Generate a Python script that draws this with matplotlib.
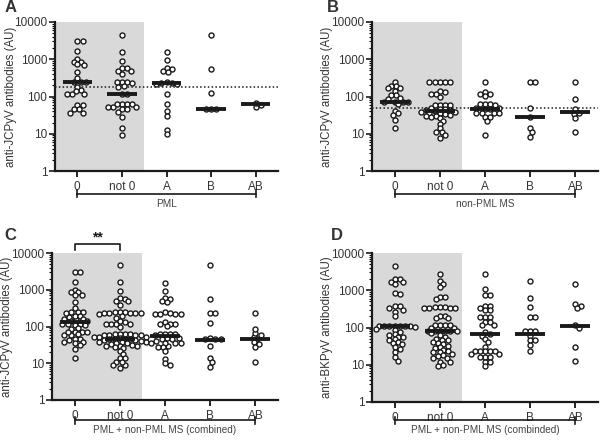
#numpy for arrays, matplotlib for the figure
import numpy as np
import matplotlib.pyplot as plt
from matplotlib import transforms as mtransforms
from matplotlib.ticker import LogLocator, FuncFormatter, NullFormatter

plt.rcParams['font.family'] = ['Liberation Sans', 'DejaVu Sans']

#Category names shown under every panel
categories = ["0", "not 0", "A", "B", "AB"]

#Panel A: PML patients, anti-JCPyV antibodies (AU)
pml_0 = [3000, 3000, 1650, 1000, 850, 850, 730, 700, 450, 310, 250, 250, 250,
         180, 150, 140, 120, 120, 120, 59, 59, 46, 46, 37, 37]
pml_not0 = [4600, 1600, 900, 590, 570, 480, 480, 390, 250, 250, 250, 225, 195,
            175, 120, 115, 64, 64, 64, 64, 53, 53, 53, 46, 46, 38, 29, 14, 9]
pml_A = [1550, 930, 600, 560, 480, 450, 250, 215, 215, 225, 225, 115, 63, 40,
         30, 13, 10]
pml_B = [4600, 550, 125, 47, 45, 45]
pml_AB = [53, 68, 60]
pml_medians = [250, 120, 225, 46, 61]
pml_cutoff = 180

#Panel B: non-PML MS patients, anti-JCPyV antibodies (AU)
ms_0 = [240, 190, 190, 165, 165, 140, 110, 110, 90, 88, 72, 72, 72, 72, 62,
        42, 35, 32, 24, 14]
ms_not0 = [240, 240, 240, 240, 240, 140, 130, 115, 115, 100, 59, 59, 59, 59,
           48, 45, 45, 43, 43, 40, 38, 38, 36, 35, 33, 32, 30, 30, 28, 26, 22,
           18, 14, 11, 11, 9, 7.5]
ms_A = [240, 135, 120, 120, 105, 62, 62, 62, 58, 50, 50, 45, 45, 36, 36, 36,
        36, 28, 28, 22, 9]
ms_B = [240, 240, 50, 29, 14, 11, 8]
ms_AB = [240, 88, 46, 37, 34, 27, 11]
ms_medians = [73, 41, 45, 29, 38]
ms_cutoff = 50

#Panel C: both cohorts together (same JCPyV values as A and B)
comb_0 = pml_0 + ms_0
comb_not0 = pml_not0 + ms_not0
comb_A = pml_A + ms_A
comb_B = pml_B + ms_B
comb_AB = pml_AB + ms_AB
comb_medians = [130, 46, 56, 42, 46]

#Panel D: both cohorts, anti-BKPyV antibodies (AU)
bk_0 = [4600, 1950, 1950, 1700, 1700, 1450, 870, 770, 375, 375, 340, 300,
        265, 200, 110, 110, 110, 110, 110, 110, 110, 105, 90, 85, 77, 65, 62,
        56, 56, 48, 45, 41, 38, 35, 30, 27, 22, 16, 13]
bk_not0 = [2700, 1800, 1450, 1250, 670, 660, 580, 360, 360, 360, 340, 340, 340,
           325, 200, 200, 175, 175, 115, 115, 115, 115, 98, 98, 80, 80, 80, 80,
           80, 80, 70, 62, 55, 50, 45, 45, 40, 38, 35, 32, 30, 28, 25, 24, 22,
           22, 20, 18, 17, 15, 15, 12, 12, 10, 9]
bk_A = [2700, 1100, 750, 750, 375, 375, 340, 290, 290, 195, 195, 195, 140, 140,
        115, 115, 75, 69, 60, 50, 41, 30, 23, 23, 23, 23, 23, 20, 20, 16, 16,
        16, 12, 12, 9]
bk_B = [1750, 630, 360, 195, 195, 80, 80, 80, 60, 45, 45, 33, 23]
bk_AB = [1450, 420, 380, 330, 115, 100, 30, 13]
bk_medians = [111, 80, 69, 69, 111]

fig = plt.figure(figsize=(6, 4.43), dpi=100)


#Turns a box in picture pixels into figure fractions
def px_box(left, top, right, bottom):
    return [left / 600, 1 - bottom / 443, (right - left) / 600, (bottom - top) / 443]


#Spreads points sideways; circles may touch a little, like the original swarm
def swarm(ax, xc, vals, d=5.2):
    vals = np.asarray(vals, dtype=float)
    disp = ax.transData.transform(np.column_stack([np.full(len(vals), xc), vals]))
    ys = disp[:, 1]
    step = d / 3
    placed = []
    offs = np.zeros(len(vals))
    for i in np.argsort(-ys):
        found = None
        k = 0
        while found is None:
            cands = [0.0] if k == 0 else [k * step, -k * step]
            for c in cands:
                if all((c - px) ** 2 + (ys[i] - py) ** 2 >= d * d * 0.6 for px, py in placed):
                    found = c
                    break
            k += 1
        offs[i] = found
        placed.append((found, ys[i]))
    unit = ax.transData.transform((1, 1))[0] - ax.transData.transform((0, 1))[0]
    return xc + offs / unit


def draw_panel(box, groups, medians, ylabel, group_text, bracket_px, letter, letter_px,
               cutoff=None):
    ax = fig.add_axes(px_box(*box))
    ax.set_yscale('log')
    ax.set_ylim(1, 10000)
    ax.set_xlim(-0.5, 4.5)
    ax.axvspan(-0.5, 1.5, color='#d9d9d9', lw=0, zorder=0)

    for i, vals in enumerate(groups):
        xs = swarm(ax, i, vals)
        ax.scatter(xs, vals, s=13, facecolor='white', edgecolor='#1a1a1a',
                   linewidth=1.0, zorder=3, clip_on=False)
        ax.plot([i - 0.33, i + 0.33], [medians[i], medians[i]], color='#1a1a1a',
                lw=2.8, solid_capstyle='butt', zorder=4)

    if cutoff is not None:
        ax.axhline(cutoff, color='#1a1a1a', ls=(0, (1, 1.5)), lw=1.1, zorder=2)

    for side in ['top', 'right']:
        ax.spines[side].set_visible(False)
    for side in ['left', 'bottom']:
        ax.spines[side].set_linewidth(1.6)
        ax.spines[side].set_color('#1a1a1a')

    ax.yaxis.set_major_locator(LogLocator(base=10, numticks=10))
    ax.yaxis.set_minor_locator(LogLocator(base=10, subs=np.arange(2, 10), numticks=20))
    ax.yaxis.set_major_formatter(FuncFormatter(lambda v, p: f'{v:g}'))
    ax.yaxis.set_minor_formatter(NullFormatter())
    ax.tick_params(axis='y', which='major', length=4, width=1.2, labelsize=8.5,
                   pad=1.5, colors='#1a1a1a', labelcolor='#333333')
    ax.tick_params(axis='y', which='minor', length=2, width=0.8)
    ax.set_xticks(range(len(categories)))
    ax.set_xticklabels(categories)
    ax.tick_params(axis='x', length=4, width=1.2, labelsize=8.5, pad=3,
                   labelcolor='#333333')

    ax.set_ylabel(ylabel, fontsize=8.3, color='#333333')
    ax.yaxis.set_label_coords(-0.172, 0.5)

    #Bracket below the categories with the cohort name
    trans = mtransforms.blended_transform_factory(ax.transData, fig.transFigure)
    yb = 1 - bracket_px / 443
    tick = 3.5 / 443
    ax.plot([0, 4], [yb, yb], transform=trans, color='#1a1a1a', lw=1.2, clip_on=False)
    for xe in [0, 4]:
        ax.plot([xe, xe], [yb - tick, yb + tick], transform=trans, color='#1a1a1a',
                lw=1.2, clip_on=False)
    ax.text(2, yb - 10 / 443, group_text, transform=trans, ha='center', va='center',
            fontsize=7.2, color='#444444')

    fig.text(letter_px[0] / 600, 1 - letter_px[1] / 443, letter, fontsize=12,
             fontweight='bold', color='#333333', ha='center', va='center')
    return ax


draw_panel((55, 22, 278, 171), [pml_0, pml_not0, pml_A, pml_B, pml_AB], pml_medians,
           "anti-JCPyV antibodies (AU)", "PML", 194, "A", (11, 8), cutoff=pml_cutoff)
draw_panel((372, 22, 598, 171), [ms_0, ms_not0, ms_A, ms_B, ms_AB], ms_medians,
           "anti-JCPyV antibodies (AU)", "non-PML MS", 194, "B", (333, 8), cutoff=ms_cutoff)
axc = draw_panel((52, 253, 278, 400), [comb_0, comb_not0, comb_A, comb_B, comb_AB],
                 comb_medians, "anti-JCPyV antibodies (AU)",
                 "PML + non-PML MS (combined)", 420, "C", (10, 235))
draw_panel((372, 253, 598, 402), [bk_0, bk_not0, bk_A, bk_B, bk_AB], bk_medians,
           "anti-BKPyV antibodies (AU)", "PML + non-PML MS (combinded)", 420, "D", (337, 235))

#Significance bracket between 0 and not 0 in panel C
trans_c = mtransforms.blended_transform_factory(axc.transData, fig.transFigure)
axc.plot([0, 0, 1, 1], [1 - 250 / 443, 1 - 244 / 443, 1 - 244 / 443, 1 - 250 / 443],
         transform=trans_c, color='#1a1a1a', lw=1.2, clip_on=False)
axc.text(0.5, 1 - 237 / 443, "**", transform=trans_c, ha='center', va='center',
         fontsize=10, fontweight='bold', color='#1a1a1a')

#Save the figure
fig.savefig("out.png", dpi=100)
